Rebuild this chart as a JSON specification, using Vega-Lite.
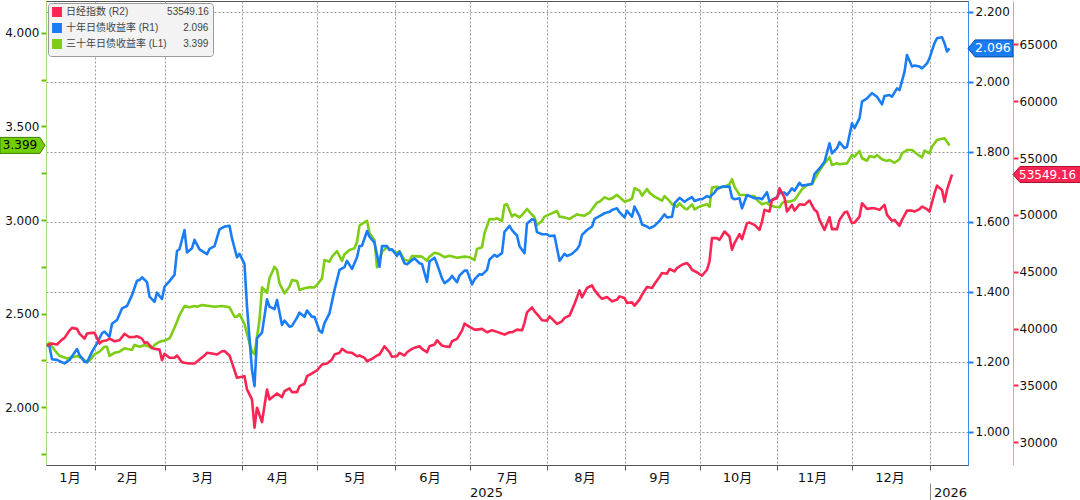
{
  "$schema": "https://vega.github.io/schema/vega-lite/v6.json",
  "width": 922,
  "height": 464,
  "autosize": {"type": "none"},
  "padding": {"left": 46, "top": 1, "right": 112, "bottom": 35},
  "background": "white",
  "config": {
    "view": {"stroke": "#555", "strokeWidth": 1},
    "font": "DejaVu Sans",
    "axis": {"labelFont": "DejaVu Sans", "labelFontSize": 12, "labelColor": "#111"}
  },
  "datasets": {
    "jgb30": [
      {"d":"2025-01-13","v":2.332},{"d":"2025-01-14","v":2.344},{"d":"2025-01-16","v":2.305},{"d":"2025-01-18","v":2.274},{"d":"2025-01-21","v":2.260},{"d":"2025-01-24","v":2.269},{"d":"2025-01-25","v":2.273},{"d":"2025-01-27","v":2.260},{"d":"2025-01-29","v":2.242},{"d":"2025-01-30","v":2.248},
      {"d":"2025-02-01","v":2.282},{"d":"2025-02-03","v":2.296},{"d":"2025-02-05","v":2.322},{"d":"2025-02-06","v":2.322},{"d":"2025-02-07","v":2.273},{"d":"2025-02-09","v":2.290},{"d":"2025-02-11","v":2.296},{"d":"2025-02-13","v":2.314},{"d":"2025-02-16","v":2.305},{"d":"2025-02-17","v":2.332},{"d":"2025-02-19","v":2.322},{"d":"2025-02-21","v":2.332},{"d":"2025-02-23","v":2.322},{"d":"2025-02-24","v":2.314},{"d":"2025-02-25","v":2.332},{"d":"2025-02-27","v":2.349},
      {"d":"2025-03-01","v":2.355},{"d":"2025-03-03","v":2.367},{"d":"2025-03-04","v":2.394},{"d":"2025-03-06","v":2.456},{"d":"2025-03-07","v":2.492},{"d":"2025-03-09","v":2.540},{"d":"2025-03-11","v":2.533},{"d":"2025-03-13","v":2.540},{"d":"2025-03-14","v":2.536},{"d":"2025-03-16","v":2.545},{"d":"2025-03-19","v":2.540},{"d":"2025-03-21","v":2.536},{"d":"2025-03-24","v":2.540},{"d":"2025-03-26","v":2.536},{"d":"2025-03-27","v":2.533},{"d":"2025-03-29","v":2.483},{"d":"2025-03-30","v":2.483},{"d":"2025-03-31","v":2.497},
      {"d":"2025-04-02","v":2.444},{"d":"2025-04-04","v":2.341},{"d":"2025-04-05","v":2.296},{"d":"2025-04-06","v":2.283},{"d":"2025-04-08","v":2.465},{"d":"2025-04-09","v":2.640},{"d":"2025-04-11","v":2.611},{"d":"2025-04-12","v":2.688},{"d":"2025-04-14","v":2.750},{"d":"2025-04-15","v":2.733},{"d":"2025-04-16","v":2.662},{"d":"2025-04-18","v":2.608},{"d":"2025-04-20","v":2.643},{"d":"2025-04-21","v":2.679},{"d":"2025-04-23","v":2.674},{"d":"2025-04-24","v":2.626},{"d":"2025-04-26","v":2.635},{"d":"2025-04-28","v":2.640},{"d":"2025-04-30","v":2.640},
      {"d":"2025-05-01","v":2.652},{"d":"2025-05-03","v":2.688},{"d":"2025-05-04","v":2.786},{"d":"2025-05-06","v":2.777},{"d":"2025-05-07","v":2.804},{"d":"2025-05-09","v":2.834},{"d":"2025-05-11","v":2.781},{"d":"2025-05-12","v":2.817},{"d":"2025-05-14","v":2.840},{"d":"2025-05-16","v":2.849},{"d":"2025-05-17","v":2.884},{"d":"2025-05-18","v":2.970},{"d":"2025-05-19","v":2.979},{"d":"2025-05-21","v":2.996},{"d":"2025-05-22","v":2.929},{"d":"2025-05-24","v":2.893},{"d":"2025-05-25","v":2.747},{"d":"2025-05-27","v":2.830},{"d":"2025-05-29","v":2.854},{"d":"2025-05-30","v":2.845},
      {"d":"2025-06-01","v":2.830},{"d":"2025-06-02","v":2.825},{"d":"2025-06-03","v":2.834},{"d":"2025-06-05","v":2.786},{"d":"2025-06-07","v":2.782},{"d":"2025-06-08","v":2.807},{"d":"2025-06-09","v":2.807},{"d":"2025-06-12","v":2.804},{"d":"2025-06-14","v":2.782},{"d":"2025-06-15","v":2.804},{"d":"2025-06-17","v":2.825},{"d":"2025-06-19","v":2.818},{"d":"2025-06-21","v":2.801},{"d":"2025-06-23","v":2.809},{"d":"2025-06-26","v":2.798},{"d":"2025-06-29","v":2.804},
      {"d":"2025-07-01","v":2.801},{"d":"2025-07-03","v":2.786},{"d":"2025-07-04","v":2.845},{"d":"2025-07-06","v":2.854},{"d":"2025-07-07","v":2.929},{"d":"2025-07-09","v":3.005},{"d":"2025-07-11","v":3.004},{"d":"2025-07-12","v":3.009},{"d":"2025-07-14","v":2.995},{"d":"2025-07-15","v":3.080},{"d":"2025-07-16","v":3.084},{"d":"2025-07-18","v":3.018},{"d":"2025-07-19","v":3.030},{"d":"2025-07-21","v":3.014},{"d":"2025-07-22","v":3.027},{"d":"2025-07-24","v":3.059},{"d":"2025-07-25","v":3.044},{"d":"2025-07-27","v":3.014},{"d":"2025-07-28","v":2.973},{"d":"2025-07-30","v":2.995},{"d":"2025-07-31","v":3.018},
      {"d":"2025-08-02","v":3.030},{"d":"2025-08-05","v":3.048},{"d":"2025-08-06","v":3.018},{"d":"2025-08-08","v":3.014},{"d":"2025-08-10","v":3.005},{"d":"2025-08-11","v":3.014},{"d":"2025-08-13","v":3.030},{"d":"2025-08-14","v":3.027},{"d":"2025-08-16","v":3.023},{"d":"2025-08-18","v":3.039},{"d":"2025-08-19","v":3.057},{"d":"2025-08-21","v":3.093},{"d":"2025-08-22","v":3.098},{"d":"2025-08-24","v":3.121},{"d":"2025-08-26","v":3.111},{"d":"2025-08-27","v":3.116},{"d":"2025-08-29","v":3.134},{"d":"2025-08-31","v":3.111},
      {"d":"2025-09-01","v":3.098},{"d":"2025-09-03","v":3.107},{"d":"2025-09-04","v":3.114},{"d":"2025-09-05","v":3.170},{"d":"2025-09-07","v":3.157},{"d":"2025-09-08","v":3.130},{"d":"2025-09-10","v":3.166},{"d":"2025-09-11","v":3.146},{"d":"2025-09-13","v":3.125},{"d":"2025-09-15","v":3.111},{"d":"2025-09-16","v":3.103},{"d":"2025-09-17","v":3.128},{"d":"2025-09-19","v":3.102},{"d":"2025-09-20","v":3.084},{"d":"2025-09-22","v":3.071},{"d":"2025-09-23","v":3.089},{"d":"2025-09-25","v":3.063},{"d":"2025-09-26","v":3.057},{"d":"2025-09-28","v":3.084},{"d":"2025-09-29","v":3.057},
      {"d":"2025-10-01","v":3.071},{"d":"2025-10-02","v":3.076},{"d":"2025-10-04","v":3.084},{"d":"2025-10-05","v":3.071},{"d":"2025-10-06","v":3.173},{"d":"2025-10-08","v":3.178},{"d":"2025-10-09","v":3.173},{"d":"2025-10-11","v":3.178},{"d":"2025-10-13","v":3.191},{"d":"2025-10-14","v":3.218},{"d":"2025-10-15","v":3.178},{"d":"2025-10-17","v":3.134},{"d":"2025-10-19","v":3.134},{"d":"2025-10-21","v":3.128},{"d":"2025-10-23","v":3.128},{"d":"2025-10-24","v":3.107},{"d":"2025-10-26","v":3.084},{"d":"2025-10-28","v":3.093},{"d":"2025-10-29","v":3.080},{"d":"2025-10-31","v":3.071},
      {"d":"2025-11-02","v":3.068},{"d":"2025-11-03","v":3.089},{"d":"2025-11-04","v":3.098},{"d":"2025-11-06","v":3.098},{"d":"2025-11-08","v":3.107},{"d":"2025-11-09","v":3.125},{"d":"2025-11-11","v":3.164},{"d":"2025-11-13","v":3.187},{"d":"2025-11-15","v":3.191},{"d":"2025-11-16","v":3.218},{"d":"2025-11-18","v":3.264},{"d":"2025-11-20","v":3.303},{"d":"2025-11-22","v":3.335},{"d":"2025-11-23","v":3.294},{"d":"2025-11-25","v":3.303},{"d":"2025-11-26","v":3.298},{"d":"2025-11-29","v":3.303},
      {"d":"2025-12-01","v":3.348},{"d":"2025-12-02","v":3.339},{"d":"2025-12-04","v":3.369},{"d":"2025-12-05","v":3.330},{"d":"2025-12-07","v":3.317},{"d":"2025-12-08","v":3.342},{"d":"2025-12-10","v":3.335},{"d":"2025-12-11","v":3.348},{"d":"2025-12-13","v":3.325},{"d":"2025-12-15","v":3.316},{"d":"2025-12-16","v":3.321},{"d":"2025-12-18","v":3.306},{"d":"2025-12-20","v":3.325},{"d":"2025-12-21","v":3.357},{"d":"2025-12-23","v":3.374},{"d":"2025-12-25","v":3.374},{"d":"2025-12-27","v":3.353},{"d":"2025-12-29","v":3.335},{"d":"2025-12-30","v":3.371},
      {"d":"2026-01-01","v":3.357},{"d":"2026-01-02","v":3.392},{"d":"2026-01-04","v":3.428},{"d":"2026-01-05","v":3.432},{"d":"2026-01-07","v":3.437},{"d":"2026-01-09","v":3.399}
    ],
    "jgb10": [
      {"d":"2025-01-13","v":1.249},{"d":"2025-01-14","v":1.244},{"d":"2025-01-15","v":1.208},{"d":"2025-01-17","v":1.206},{"d":"2025-01-20","v":1.196},{"d":"2025-01-22","v":1.206},{"d":"2025-01-25","v":1.237},{"d":"2025-01-26","v":1.220},{"d":"2025-01-28","v":1.201},{"d":"2025-01-29","v":1.199},{"d":"2025-01-31","v":1.229},
      {"d":"2025-02-02","v":1.253},{"d":"2025-02-04","v":1.282},{"d":"2025-02-05","v":1.287},{"d":"2025-02-07","v":1.272},{"d":"2025-02-08","v":1.309},{"d":"2025-02-10","v":1.320},{"d":"2025-02-12","v":1.353},{"d":"2025-02-14","v":1.360},{"d":"2025-02-16","v":1.391},{"d":"2025-02-18","v":1.432},{"d":"2025-02-19","v":1.434},{"d":"2025-02-20","v":1.442},{"d":"2025-02-22","v":1.428},{"d":"2025-02-23","v":1.387},{"d":"2025-02-25","v":1.372},{"d":"2025-02-26","v":1.398},{"d":"2025-02-28","v":1.380},
      {"d":"2025-03-01","v":1.415},{"d":"2025-03-03","v":1.431},{"d":"2025-03-05","v":1.449},{"d":"2025-03-06","v":1.517},{"d":"2025-03-07","v":1.522},{"d":"2025-03-09","v":1.577},{"d":"2025-03-10","v":1.513},{"d":"2025-03-12","v":1.525},{"d":"2025-03-13","v":1.549},{"d":"2025-03-15","v":1.522},{"d":"2025-03-18","v":1.508},{"d":"2025-03-19","v":1.523},{"d":"2025-03-21","v":1.531},{"d":"2025-03-23","v":1.579},{"d":"2025-03-25","v":1.587},{"d":"2025-03-27","v":1.589},{"d":"2025-03-28","v":1.553},{"d":"2025-03-30","v":1.499},{"d":"2025-03-31","v":1.509},
      {"d":"2025-04-02","v":1.480},{"d":"2025-04-03","v":1.358},{"d":"2025-04-05","v":1.177},{"d":"2025-04-06","v":1.131},{"d":"2025-04-07","v":1.268},{"d":"2025-04-09","v":1.284},{"d":"2025-04-11","v":1.379},{"d":"2025-04-12","v":1.358},{"d":"2025-04-14","v":1.351},{"d":"2025-04-15","v":1.377},{"d":"2025-04-17","v":1.306},{"d":"2025-04-18","v":1.318},{"d":"2025-04-20","v":1.301},{"d":"2025-04-21","v":1.303},{"d":"2025-04-23","v":1.327},{"d":"2025-04-24","v":1.341},{"d":"2025-04-26","v":1.329},{"d":"2025-04-27","v":1.347},{"d":"2025-04-29","v":1.329},{"d":"2025-04-30","v":1.329},
      {"d":"2025-05-02","v":1.289},{"d":"2025-05-03","v":1.284},{"d":"2025-05-04","v":1.311},{"d":"2025-05-06","v":1.339},{"d":"2025-05-08","v":1.406},{"d":"2025-05-10","v":1.463},{"d":"2025-05-12","v":1.471},{"d":"2025-05-13","v":1.489},{"d":"2025-05-15","v":1.466},{"d":"2025-05-17","v":1.499},{"d":"2025-05-18","v":1.531},{"d":"2025-05-19","v":1.532},{"d":"2025-05-21","v":1.574},{"d":"2025-05-22","v":1.558},{"d":"2025-05-24","v":1.541},{"d":"2025-05-26","v":1.472},{"d":"2025-05-27","v":1.531},{"d":"2025-05-29","v":1.531},{"d":"2025-05-30","v":1.520},{"d":"2025-05-31","v":1.522},
      {"d":"2025-06-02","v":1.503},{"d":"2025-06-03","v":1.515},{"d":"2025-06-05","v":1.482},{"d":"2025-06-06","v":1.479},{"d":"2025-06-08","v":1.491},{"d":"2025-06-09","v":1.496},{"d":"2025-06-11","v":1.482},{"d":"2025-06-12","v":1.480},{"d":"2025-06-14","v":1.429},{"d":"2025-06-15","v":1.487},{"d":"2025-06-17","v":1.498},{"d":"2025-06-18","v":1.480},{"d":"2025-06-20","v":1.439},{"d":"2025-06-21","v":1.425},{"d":"2025-06-23","v":1.436},{"d":"2025-06-24","v":1.446},{"d":"2025-06-26","v":1.428},{"d":"2025-06-27","v":1.447},{"d":"2025-06-29","v":1.461},{"d":"2025-06-30","v":1.461},
      {"d":"2025-07-02","v":1.422},{"d":"2025-07-03","v":1.436},{"d":"2025-07-05","v":1.451},{"d":"2025-07-06","v":1.449},{"d":"2025-07-08","v":1.463},{"d":"2025-07-09","v":1.493},{"d":"2025-07-11","v":1.506},{"d":"2025-07-12","v":1.501},{"d":"2025-07-14","v":1.511},{"d":"2025-07-15","v":1.572},{"d":"2025-07-17","v":1.589},{"d":"2025-07-18","v":1.577},{"d":"2025-07-20","v":1.561},{"d":"2025-07-21","v":1.531},{"d":"2025-07-23","v":1.511},{"d":"2025-07-24","v":1.596},{"d":"2025-07-26","v":1.608},{"d":"2025-07-27","v":1.606},{"d":"2025-07-28","v":1.571},{"d":"2025-07-30","v":1.565},
      {"d":"2025-08-01","v":1.565},{"d":"2025-08-02","v":1.560},{"d":"2025-08-04","v":1.561},{"d":"2025-08-05","v":1.525},{"d":"2025-08-06","v":1.489},{"d":"2025-08-08","v":1.509},{"d":"2025-08-09","v":1.503},{"d":"2025-08-11","v":1.509},{"d":"2025-08-13","v":1.522},{"d":"2025-08-14","v":1.534},{"d":"2025-08-15","v":1.563},{"d":"2025-08-17","v":1.577},{"d":"2025-08-19","v":1.587},{"d":"2025-08-20","v":1.609},{"d":"2025-08-22","v":1.617},{"d":"2025-08-24","v":1.625},{"d":"2025-08-26","v":1.629},{"d":"2025-08-27","v":1.634},{"d":"2025-08-29","v":1.639},{"d":"2025-08-30","v":1.628},
      {"d":"2025-09-01","v":1.613},{"d":"2025-09-02","v":1.632},{"d":"2025-09-04","v":1.615},{"d":"2025-09-05","v":1.644},{"d":"2025-09-07","v":1.617},{"d":"2025-09-08","v":1.593},{"d":"2025-09-10","v":1.587},{"d":"2025-09-11","v":1.582},{"d":"2025-09-13","v":1.589},{"d":"2025-09-15","v":1.603},{"d":"2025-09-17","v":1.622},{"d":"2025-09-18","v":1.613},{"d":"2025-09-20","v":1.615},{"d":"2025-09-21","v":1.653},{"d":"2025-09-23","v":1.669},{"d":"2025-09-25","v":1.658},{"d":"2025-09-26","v":1.663},{"d":"2025-09-28","v":1.671},{"d":"2025-09-29","v":1.660},
      {"d":"2025-10-01","v":1.665},{"d":"2025-10-02","v":1.665},{"d":"2025-10-04","v":1.674},{"d":"2025-10-05","v":1.671},{"d":"2025-10-07","v":1.684},{"d":"2025-10-08","v":1.694},{"d":"2025-10-10","v":1.701},{"d":"2025-10-11","v":1.701},{"d":"2025-10-13","v":1.701},{"d":"2025-10-14","v":1.669},{"d":"2025-10-15","v":1.665},{"d":"2025-10-17","v":1.668},{"d":"2025-10-18","v":1.639},{"d":"2025-10-20","v":1.677},{"d":"2025-10-22","v":1.671},{"d":"2025-10-23","v":1.668},{"d":"2025-10-25","v":1.668},{"d":"2025-10-26","v":1.665},{"d":"2025-10-28","v":1.685},{"d":"2025-10-29","v":1.658},{"d":"2025-10-30","v":1.663},
      {"d":"2025-11-01","v":1.671},{"d":"2025-11-02","v":1.683},{"d":"2025-11-04","v":1.684},{"d":"2025-11-05","v":1.677},{"d":"2025-11-07","v":1.696},{"d":"2025-11-08","v":1.689},{"d":"2025-11-10","v":1.712},{"d":"2025-11-11","v":1.704},{"d":"2025-11-13","v":1.706},{"d":"2025-11-15","v":1.709},{"d":"2025-11-16","v":1.737},{"d":"2025-11-18","v":1.753},{"d":"2025-11-20","v":1.772},{"d":"2025-11-22","v":1.825},{"d":"2025-11-23","v":1.796},{"d":"2025-11-25","v":1.811},{"d":"2025-11-26","v":1.828},{"d":"2025-11-28","v":1.811},{"d":"2025-11-29","v":1.815},
      {"d":"2025-12-01","v":1.882},{"d":"2025-12-02","v":1.868},{"d":"2025-12-04","v":1.896},{"d":"2025-12-05","v":1.944},{"d":"2025-12-07","v":1.953},{"d":"2025-12-09","v":1.968},{"d":"2025-12-10","v":1.963},{"d":"2025-12-11","v":1.958},{"d":"2025-12-13","v":1.936},{"d":"2025-12-14","v":1.960},{"d":"2025-12-16","v":1.963},{"d":"2025-12-17","v":1.958},{"d":"2025-12-19","v":1.982},{"d":"2025-12-20","v":1.977},{"d":"2025-12-22","v":2.029},{"d":"2025-12-23","v":2.077},{"d":"2025-12-25","v":2.044},{"d":"2025-12-26","v":2.047},{"d":"2025-12-28","v":2.044},{"d":"2025-12-29","v":2.039},{"d":"2025-12-31","v":2.053},
      {"d":"2026-01-01","v":2.068},{"d":"2026-01-03","v":2.111},{"d":"2026-01-04","v":2.125},{"d":"2026-01-06","v":2.128},{"d":"2026-01-07","v":2.111},{"d":"2026-01-08","v":2.087},{"d":"2026-01-09","v":2.096}
    ],
    "n225": [
      {"d":"2025-01-13","v":38509},{"d":"2025-01-15","v":38684},{"d":"2025-01-17","v":38596},{"d":"2025-01-19","v":39035},{"d":"2025-01-20","v":39184},{"d":"2025-01-22","v":39824},{"d":"2025-01-23","v":40061},{"d":"2025-01-25","v":39973},{"d":"2025-01-26","v":39561},{"d":"2025-01-28","v":39123},{"d":"2025-01-29","v":39561},{"d":"2025-01-31","v":39622},
      {"d":"2025-02-01","v":39622},{"d":"2025-02-03","v":38684},{"d":"2025-02-04","v":38886},{"d":"2025-02-06","v":38973},{"d":"2025-02-07","v":39123},{"d":"2025-02-09","v":38886},{"d":"2025-02-11","v":38973},{"d":"2025-02-13","v":39535},{"d":"2025-02-15","v":39237},{"d":"2025-02-17","v":39272},{"d":"2025-02-18","v":39324},{"d":"2025-02-20","v":39123},{"d":"2025-02-21","v":38745},{"d":"2025-02-22","v":38798},{"d":"2025-02-24","v":38307},{"d":"2025-02-25","v":38219},{"d":"2025-02-27","v":38158},{"d":"2025-02-28","v":37219},
      {"d":"2025-03-01","v":37780},{"d":"2025-03-03","v":37430},{"d":"2025-03-05","v":37430},{"d":"2025-03-06","v":37631},{"d":"2025-03-08","v":37043},{"d":"2025-03-09","v":36991},{"d":"2025-03-11","v":36930},{"d":"2025-03-13","v":36930},{"d":"2025-03-15","v":37280},{"d":"2025-03-17","v":37631},{"d":"2025-03-18","v":37868},{"d":"2025-03-20","v":37807},{"d":"2025-03-22","v":37719},{"d":"2025-03-24","v":38008},{"d":"2025-03-25","v":38026},{"d":"2025-03-27","v":37631},{"d":"2025-03-28","v":36991},{"d":"2025-03-30","v":35675},{"d":"2025-03-31","v":35727},
      {"d":"2025-04-02","v":35815},{"d":"2025-04-03","v":34649},{"d":"2025-04-05","v":33772},{"d":"2025-04-06","v":31289},{"d":"2025-04-07","v":33043},{"d":"2025-04-09","v":31780},{"d":"2025-04-11","v":34649},{"d":"2025-04-12","v":33772},{"d":"2025-04-14","v":34123},{"d":"2025-04-15","v":34298},{"d":"2025-04-17","v":33973},{"d":"2025-04-18","v":34500},{"d":"2025-04-20","v":34737},{"d":"2025-04-21","v":34412},{"d":"2025-04-23","v":34412},{"d":"2025-04-24","v":34938},{"d":"2025-04-26","v":35149},{"d":"2025-04-27","v":35815},{"d":"2025-04-29","v":36052},
      {"d":"2025-05-01","v":36316},{"d":"2025-05-03","v":36842},{"d":"2025-05-05","v":36930},{"d":"2025-05-07","v":37280},{"d":"2025-05-08","v":37719},{"d":"2025-05-10","v":37868},{"d":"2025-05-11","v":38219},{"d":"2025-05-13","v":37921},{"d":"2025-05-15","v":37868},{"d":"2025-05-17","v":37570},{"d":"2025-05-18","v":37631},{"d":"2025-05-20","v":37430},{"d":"2025-05-21","v":37131},{"d":"2025-05-23","v":37342},{"d":"2025-05-25","v":37631},{"d":"2025-05-26","v":37719},{"d":"2025-05-28","v":38447},{"d":"2025-05-30","v":37921},{"d":"2025-05-31","v":37517},
      {"d":"2025-06-02","v":37570},{"d":"2025-06-03","v":37868},{"d":"2025-06-05","v":37631},{"d":"2025-06-06","v":37921},{"d":"2025-06-08","v":38219},{"d":"2025-06-09","v":38307},{"d":"2025-06-11","v":38447},{"d":"2025-06-12","v":38219},{"d":"2025-06-14","v":37921},{"d":"2025-06-15","v":38447},{"d":"2025-06-17","v":38596},{"d":"2025-06-18","v":38973},{"d":"2025-06-20","v":38509},{"d":"2025-06-21","v":38447},{"d":"2025-06-23","v":38394},{"d":"2025-06-24","v":38886},{"d":"2025-06-26","v":39096},{"d":"2025-06-28","v":39824},{"d":"2025-06-29","v":40438},
      {"d":"2025-07-01","v":40149},{"d":"2025-07-03","v":39912},{"d":"2025-07-04","v":39912},{"d":"2025-07-06","v":39973},{"d":"2025-07-08","v":39675},{"d":"2025-07-10","v":39850},{"d":"2025-07-12","v":39710},{"d":"2025-07-15","v":39473},{"d":"2025-07-17","v":39675},{"d":"2025-07-18","v":39675},{"d":"2025-07-20","v":39912},{"d":"2025-07-22","v":39850},{"d":"2025-07-23","v":40499},{"d":"2025-07-24","v":41430},{"d":"2025-07-26","v":41868},{"d":"2025-07-27","v":41517},{"d":"2025-07-29","v":41026},{"d":"2025-07-30","v":40728},
      {"d":"2025-08-01","v":40702},{"d":"2025-08-02","v":41079},{"d":"2025-08-03","v":40851},{"d":"2025-08-05","v":40412},{"d":"2025-08-07","v":40640},{"d":"2025-08-08","v":40938},{"d":"2025-08-10","v":41140},{"d":"2025-08-12","v":42167},{"d":"2025-08-14","v":43359},{"d":"2025-08-15","v":42745},{"d":"2025-08-17","v":43570},{"d":"2025-08-19","v":43798},{"d":"2025-08-20","v":43377},{"d":"2025-08-22","v":42833},{"d":"2025-08-23","v":42631},{"d":"2025-08-25","v":42780},{"d":"2025-08-27","v":42395},{"d":"2025-08-29","v":42544},{"d":"2025-08-30","v":42833},
      {"d":"2025-09-01","v":42693},{"d":"2025-09-02","v":42254},{"d":"2025-09-04","v":42307},{"d":"2025-09-05","v":42017},{"d":"2025-09-07","v":42544},{"d":"2025-09-08","v":42982},{"d":"2025-09-10","v":43658},{"d":"2025-09-12","v":43570},{"d":"2025-09-13","v":43921},{"d":"2025-09-15","v":44535},{"d":"2025-09-16","v":44886},{"d":"2025-09-18","v":44824},{"d":"2025-09-19","v":45237},{"d":"2025-09-21","v":45026},{"d":"2025-09-22","v":45324},{"d":"2025-09-24","v":45614},{"d":"2025-09-26","v":45763},{"d":"2025-09-27","v":45526},{"d":"2025-09-28","v":45175},{"d":"2025-09-30","v":44938},
      {"d":"2025-10-02","v":44649},{"d":"2025-10-04","v":45175},{"d":"2025-10-05","v":45903},{"d":"2025-10-06","v":47956},{"d":"2025-10-08","v":47956},{"d":"2025-10-09","v":47807},{"d":"2025-10-11","v":48535},{"d":"2025-10-13","v":48096},{"d":"2025-10-14","v":46930},{"d":"2025-10-15","v":47517},{"d":"2025-10-17","v":48307},{"d":"2025-10-18","v":47868},{"d":"2025-10-20","v":49272},{"d":"2025-10-21","v":49324},{"d":"2025-10-23","v":49123},{"d":"2025-10-25","v":48684},{"d":"2025-10-26","v":49412},{"d":"2025-10-27","v":50438},{"d":"2025-10-29","v":50289},{"d":"2025-10-30","v":51316},
      {"d":"2025-11-01","v":51465},{"d":"2025-11-02","v":52342},{"d":"2025-11-04","v":51509},{"d":"2025-11-05","v":50289},{"d":"2025-11-07","v":50877},{"d":"2025-11-08","v":50377},{"d":"2025-11-10","v":50938},{"d":"2025-11-12","v":50877},{"d":"2025-11-13","v":51079},{"d":"2025-11-14","v":51254},{"d":"2025-11-16","v":50438},{"d":"2025-11-17","v":50289},{"d":"2025-11-18","v":49561},{"d":"2025-11-20","v":48684},{"d":"2025-11-22","v":49798},{"d":"2025-11-23","v":48745},{"d":"2025-11-25","v":48745},{"d":"2025-11-26","v":49561},{"d":"2025-11-28","v":50202},{"d":"2025-11-29","v":50289},
      {"d":"2025-12-01","v":49272},{"d":"2025-12-02","v":49324},{"d":"2025-12-04","v":49851},{"d":"2025-12-05","v":51026},{"d":"2025-12-07","v":50526},{"d":"2025-12-09","v":50588},{"d":"2025-12-10","v":50588},{"d":"2025-12-12","v":50438},{"d":"2025-12-14","v":50877},{"d":"2025-12-15","v":50000},{"d":"2025-12-17","v":49474},{"d":"2025-12-18","v":49561},{"d":"2025-12-20","v":49035},{"d":"2025-12-21","v":49561},{"d":"2025-12-23","v":50377},{"d":"2025-12-25","v":50377},{"d":"2025-12-26","v":50289},{"d":"2025-12-28","v":50500},{"d":"2025-12-29","v":50728},{"d":"2025-12-31","v":50500},
      {"d":"2026-01-01","v":50289},{"d":"2026-01-03","v":51903},{"d":"2026-01-04","v":52570},{"d":"2026-01-06","v":52193},{"d":"2026-01-07","v":51166},{"d":"2026-01-08","v":52193},{"d":"2026-01-10","v":53549.16}
    ]
  },
  "layer": [
    {
      "data": {"name": "jgb30"},
      "layer": [
        {
          "mark": {"type": "line", "strokeWidth": 2.6, "strokeJoin": "round"},
          "encoding": {
            "x": {
              "field": "d", "type": "temporal",
              "scale": {"type": "utc", "domain": [{"year": 2025, "month": 1, "date": 12, "hours": 14, "minutes": 24, "utc": true}, {"year": 2026, "month": 1, "date": 16, "hours": 9, "minutes": 36, "utc": true}]},
              "axis": {
                "orient": "bottom", "title": null, "labels": false,
                "values": [
                  {"year": 2025, "month": 2, "date": 1, "utc": true}, {"year": 2025, "month": 3, "date": 1, "utc": true}, {"year": 2025, "month": 4, "date": 1, "utc": true}, {"year": 2025, "month": 5, "date": 1, "utc": true}, {"year": 2025, "month": 6, "date": 1, "utc": true}, {"year": 2025, "month": 7, "date": 1, "utc": true}, {"year": 2025, "month": 8, "date": 1, "utc": true}, {"year": 2025, "month": 9, "date": 1, "utc": true}, {"year": 2025, "month": 10, "date": 1, "utc": true}, {"year": 2025, "month": 11, "date": 1, "utc": true}, {"year": 2025, "month": 12, "date": 1, "utc": true}, {"year": 2026, "month": 1, "date": 1, "utc": true}
                ],
                "grid": true, "gridDash": [2, 2], "gridColor": "#9a9a9a", "gridWidth": 1,
                "ticks": true, "tickSize": 5, "tickColor": "#555",
                "domain": true, "domainColor": "#555"
              }
            },
            "y": {
              "field": "v", "type": "quantitative",
              "scale": {"domain": [1.69, 4.171], "zero": false, "nice": false},
              "axis": {
                "orient": "left", "title": null,
                "values": [1.75, 2.0, 2.25, 2.5, 2.75, 3.0, 3.25, 3.5, 3.75, 4.0],
                "labelExpr": "datum.value % 0.5 == 0 ? format(datum.value, '.3f') : ''",
                "grid": false, "tickSize": 5, "tickWidth": 2, "tickColor": "#66c200",
                "domainColor": "#a8dc80", "labelPadding": 2
              }
            },
            "color": {
              "datum": "三十年日债收益率 (L1)", "type": "nominal",
              "scale": {"domain": ["日经指数 (R2)", "十年日债收益率 (R1)", "三十年日债收益率 (L1)"], "range": ["#fa2552", "#1a7df5", "#7dcd14"]},
              "legend": {
                "orient": "none", "legendX": 2, "legendY": 2, "title": null, "direction": "vertical",
                "fillColor": "#f3f3f3", "strokeColor": "#9a9a9a", "cornerRadius": 3, "padding": 4,
                "rowPadding": 0, "symbolSize": 70, "symbolType": "square",
                "labelFontSize": 10, "labelColor": "#444", "labelFont": "Liberation Sans, Noto Sans CJK SC", "labelLimit": 300,
                "labelExpr": "datum.label == '日经指数 (R2)' ? datum.label + '\u00a0\u00a0\u00a0\u00a0\u00a0\u00a0\u00a0\u00a0\u00a0\u00a0\u00a0\u00a0\u00a0\u00a053549.16' : datum.label == '十年日债收益率 (R1)' ? datum.label + '\u00a0\u00a0\u00a0\u00a0\u00a0\u00a0\u00a0\u00a0\u00a02.096' : datum.label + '\u00a0\u00a0\u00a0\u00a0\u00a0\u00a03.399'",
                "encode": {"symbols": {"update": {"fill": {"scale": "color", "field": "value"}, "stroke": {"value": "transparent"}, "shape": {"value": "square"}, "opacity": {"value": 1}}}}
              }
            }
          }
        },
        {
          "data": {"values": [{"v": 3.399, "label": "3.399"}]},
          "mark": {"type": "point", "shape": "M-1,0L-6,-8L-46,-8L-46,8L-6,8Z", "size": 4, "filled": true, "fill": "#6fcf00", "stroke": "#3f7f00", "strokeWidth": 1, "opacity": 1},
          "encoding": {
            "x": {"value": 0},
            "y": {"field": "v", "type": "quantitative", "scale": {"domain": [1.69, 4.171], "zero": false, "nice": false}}
          }
        },
        {
          "data": {"values": [{"v": 3.399, "label": "3.399"}]},
          "mark": {"type": "text", "align": "center", "baseline": "middle", "dx": -26, "fontSize": 12, "font": "DejaVu Sans", "color": "#000"},
          "encoding": {
            "x": {"value": 0},
            "y": {"field": "v", "type": "quantitative", "scale": {"domain": [1.69, 4.171], "zero": false, "nice": false}},
            "text": {"field": "label"}
          }
        }
      ]
    },
    {
      "data": {"name": "jgb10"},
      "layer": [
        {
          "mark": {"type": "line", "strokeWidth": 2.6, "strokeJoin": "round"},
          "encoding": {
            "x": {
              "field": "d", "type": "temporal",
              "scale": {"type": "utc", "domain": [{"year": 2025, "month": 1, "date": 12, "hours": 14, "minutes": 24, "utc": true}, {"year": 2026, "month": 1, "date": 16, "hours": 9, "minutes": 36, "utc": true}]},
              "axis": {
                "orient": "bottom", "title": null, "format": "%-m月",
                "values": [
                  {"year": 2025, "month": 1, "date": 22, "utc": true}, {"year": 2025, "month": 2, "date": 14, "utc": true}, {"year": 2025, "month": 3, "date": 16, "utc": true}, {"year": 2025, "month": 4, "date": 15, "utc": true}, {"year": 2025, "month": 5, "date": 16, "utc": true}, {"year": 2025, "month": 6, "date": 15, "utc": true}, {"year": 2025, "month": 7, "date": 16, "utc": true}, {"year": 2025, "month": 8, "date": 16, "utc": true}, {"year": 2025, "month": 9, "date": 15, "utc": true}, {"year": 2025, "month": 10, "date": 16, "utc": true}, {"year": 2025, "month": 11, "date": 15, "utc": true}, {"year": 2025, "month": 12, "date": 16, "utc": true}
                ],
                "grid": false, "ticks": false, "domain": false,
                "labelPadding": 6, "labelFontSize": 13, "labelFont": "DejaVu Sans, Noto Sans CJK SC",
                "labelFlush": false, "labelOverlap": false, "labelColor": "#111"
              }
            },
            "y": {
              "field": "v", "type": "quantitative",
              "scale": {"domain": [0.9057, 2.2314], "zero": false, "nice": false},
              "axis": {
                "orient": "right", "title": null,
                "values": [1.0, 1.1, 1.2, 1.3, 1.4, 1.5, 1.6, 1.7, 1.8, 1.9, 2.0, 2.1, 2.2],
                "labelExpr": "round(datum.value * 10) % 2 == 0 ? format(datum.value, '.3f') : ''",
                "grid": true, "gridDash": [2, 2], "gridColor": "#9a9a9a",
                "gridOpacity": {"condition": {"test": "round(datum.value * 10) % 2 == 0", "value": 1}, "value": 0},
                "tickSize": 5, "tickWidth": 2, "tickColor": "#1a7df5", "domainColor": "#3b8cf0", "labelPadding": 2
              }
            },
            "color": {"datum": "十年日债收益率 (R1)", "type": "nominal", "scale": {"domain": ["日经指数 (R2)", "十年日债收益率 (R1)", "三十年日债收益率 (L1)"], "range": ["#fa2552", "#1a7df5", "#7dcd14"]}}
          }
        },
        {
          "data": {"values": [{"v": 2.096, "label": "2.096"}]},
          "mark": {"type": "point", "shape": "M0,0L7,-8.5L45,-8.5L45,8.5L7,8.5Z", "size": 4, "filled": true, "fill": "#1a7df5", "stroke": "#0b4fa8", "strokeWidth": 1, "opacity": 1},
          "encoding": {
            "x": {"value": "width"},
            "y": {"field": "v", "type": "quantitative", "scale": {"domain": [0.9057, 2.2314], "zero": false, "nice": false}}
          }
        },
        {
          "data": {"values": [{"v": 2.096, "label": "2.096"}]},
          "mark": {"type": "text", "align": "left", "baseline": "middle", "dx": 7, "fontSize": 12.5, "font": "DejaVu Sans", "color": "#fff"},
          "encoding": {
            "x": {"value": "width"},
            "y": {"field": "v", "type": "quantitative", "scale": {"domain": [0.9057, 2.2314], "zero": false, "nice": false}},
            "text": {"field": "label"}
          }
        }
      ]
    },
    {
      "data": {"name": "n225"},
      "layer": [
        {
          "mark": {"type": "line", "strokeWidth": 2.6, "strokeJoin": "round"},
          "encoding": {
            "x": {
              "field": "d", "type": "temporal",
              "scale": {"type": "utc", "domain": [{"year": 2025, "month": 1, "date": 12, "hours": 14, "minutes": 24, "utc": true}, {"year": 2026, "month": 1, "date": 16, "hours": 9, "minutes": 36, "utc": true}]},
              "axis": {
                "orient": "bottom", "title": null, "format": "%Y", "offset": 18,
                "values": [{"year": 2025, "month": 7, "date": 6, "utc": true}, {"year": 2026, "month": 1, "date": 1, "utc": true}],
                "grid": false, "domain": false, "ticks": true, "tickSize": 17, "tickWidth": 1,
                "tickColor": {"condition": {"test": "utcyear(datum.value) == 2026", "value": "#888"}, "value": "transparent"},
                "labelAlign": {"condition": {"test": "utcyear(datum.value) == 2026", "value": "left"}, "value": "center"},
                "labelOffset": 4, "labelPadding": -14, "labelFontSize": 13,
                "labelFlush": false, "labelOverlap": false, "labelColor": "#111"
              }
            },
            "y": {
              "field": "v", "type": "quantitative",
              "scale": {"domain": [28004, 68808], "zero": false, "nice": false},
              "axis": {
                "orient": "right", "offset": 45, "title": null,
                "values": [30000, 32500, 35000, 37500, 40000, 42500, 45000, 47500, 50000, 52500, 55000, 57500, 60000, 62500, 65000, 67500],
                "labelExpr": "datum.value % 5000 == 0 ? datum.value + '' : ''",
                "grid": false, "tickSize": 5, "tickWidth": 2, "tickColor": "#fa2552", "domainColor": "#ff8fa5", "labelPadding": 1
              }
            },
            "color": {"datum": "日经指数 (R2)", "type": "nominal", "scale": {"domain": ["日经指数 (R2)", "十年日债收益率 (R1)", "三十年日债收益率 (L1)"], "range": ["#fa2552", "#1a7df5", "#7dcd14"]}}
          }
        },
        {
          "data": {"values": [{"v": 53549.16, "label": "53549.16"}]},
          "mark": {"type": "point", "shape": "M45,0L52,-8L113,-8L113,8L52,8Z", "size": 4, "filled": true, "fill": "#fa2552", "stroke": "#b0102f", "strokeWidth": 1, "opacity": 1},
          "encoding": {
            "x": {"value": "width"},
            "y": {"field": "v", "type": "quantitative", "scale": {"domain": [28004, 68808], "zero": false, "nice": false}}
          }
        },
        {
          "data": {"values": [{"v": 53549.16, "label": "53549.16"}]},
          "mark": {"type": "text", "align": "left", "baseline": "middle", "dx": 51, "fontSize": 12, "font": "DejaVu Sans", "color": "#fff"},
          "encoding": {
            "x": {"value": "width"},
            "y": {"field": "v", "type": "quantitative", "scale": {"domain": [28004, 68808], "zero": false, "nice": false}},
            "text": {"field": "label"}
          }
        }
      ]
    }
  ],
  "resolve": {"scale": {"y": "independent"}, "axis": {"x": "independent", "y": "independent"}}
}
